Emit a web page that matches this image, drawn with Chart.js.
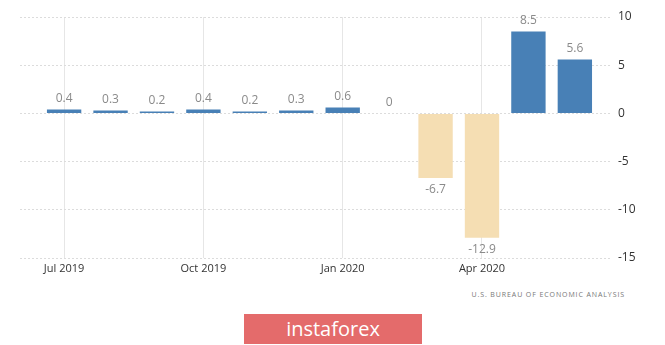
<!DOCTYPE html>
<html>
<head>
  <title>GDP growth chart</title>
  <script src="https://cdn.jsdelivr.net/npm/chart.js"></script>
  <style>
    body { margin: 0; background: #fff; font-family: "Open Sans", sans-serif; }
    #wrap { position: absolute; left: 0; top: 0; width: 665px; height: 280px; }
    #source { position: absolute; left: 400px; top: 290px; width: 225px; text-align: right;
      font-size: 7px; letter-spacing: 0.9px; color: #777; }
    #brand { position: absolute; left: 244px; top: 314px; width: 178px; height: 30px;
      background: #e46b6b; color: #fff; font-size: 20px; line-height: 29px; text-align: center;
      font-family: "Open Sans", sans-serif; }
  </style>
</head>
<body>
  <div id="wrap"><canvas id="myChart"></canvas></div>
  <div id="source">U.S. BUREAU OF ECONOMIC ANALYSIS</div>
  <div id="brand">instaforex</div>

  <script>
    // Data
    var months = ['Jul 2019', 'Aug 2019', 'Sep 2019', 'Oct 2019', 'Nov 2019', 'Dec 2019',
                  'Jan 2020', 'Feb 2020', 'Mar 2020', 'Apr 2020', 'May 2020', 'Jun 2020'];
    var values = [0.4, 0.3, 0.2, 0.4, 0.2, 0.3, 0.6, 0, -6.7, -12.9, 8.5, 5.6];
    var xTickLabels = ['Jul 2019', 'Oct 2019', 'Jan 2020', 'Apr 2020'];
    var yTicks = [-15, -10, -5, 0, 5, 10];

    var points = values.map(function (v, i) { return { x: i, y: v }; });
    var colors = values.map(function (v) { return v >= 0 ? '#4880b6' : '#f5deb3'; });

    // value labels above / below the bars
    var barLabels = {
      id: 'barLabels',
      afterDatasetsDraw: function (chart) {
        var ctx = chart.ctx;
        var meta = chart.getDatasetMeta(0);
        ctx.save();
        ctx.font = '12px "Open Sans", sans-serif';
        ctx.fillStyle = '#8a8a8a';
        ctx.textAlign = 'center';
        meta.data.forEach(function (bar, i) {
          var v = values[i];
          if (v >= 0) {
            ctx.textBaseline = 'bottom';
            ctx.fillText(String(v), bar.x, bar.y - 5);
          } else {
            ctx.textBaseline = 'top';
            ctx.fillText(String(v), bar.x, bar.y + 6);
          }
        });
        ctx.restore();
      }
    };

    var ctx = document.getElementById('myChart').getContext('2d');
    var myChart = new Chart(ctx, {
      type: 'bar',
      data: {
        datasets: [{
          data: points,
          backgroundColor: colors,
          barPercentage: 0.74,
          categoryPercentage: 1
        }]
      },
      options: {
        responsive: true,
        maintainAspectRatio: false,
        animation: false,
        layout: { padding: { left: 20, right: 10, top: 17, bottom: 0 } },
        plugins: { legend: { display: false }, tooltip: { enabled: false } },
        scales: {
          x: {
            type: 'linear',
            offset: false,
            min: -0.95,
            max: 11.8,
            afterBuildTicks: function (scale) {
              scale.ticks = xTickLabels.map(function (l) { return { value: months.indexOf(l) }; });
            },
            afterFit: function (scale) { scale.height = 22; },
            ticks: {
              autoSkip: false,
              maxRotation: 0,
              padding: 4,
              color: '#333',
              font: { family: '"Open Sans", sans-serif', size: 11 },
              callback: function (v) { return months[v]; }
            },
            grid: { color: '#e6e6e6', drawTicks: false, offset: false },
            border: { display: false }
          },
          y: {
            position: 'right',
            min: -15,
            max: 10,
            afterBuildTicks: function (scale) {
              scale.ticks = yTicks.map(function (t) { return { value: t }; });
            },
            afterFit: function (scale) { scale.width = 43; },
            ticks: {
              padding: 6,
              color: '#333',
              font: { family: '"Open Sans", sans-serif', size: 12 }
            },
            grid: { color: '#dcdcdc', drawTicks: false },
            border: { display: false, dash: [2, 2] }
          }
        }
      },
      plugins: [barLabels]
    });
  </script>
</body>
</html>
